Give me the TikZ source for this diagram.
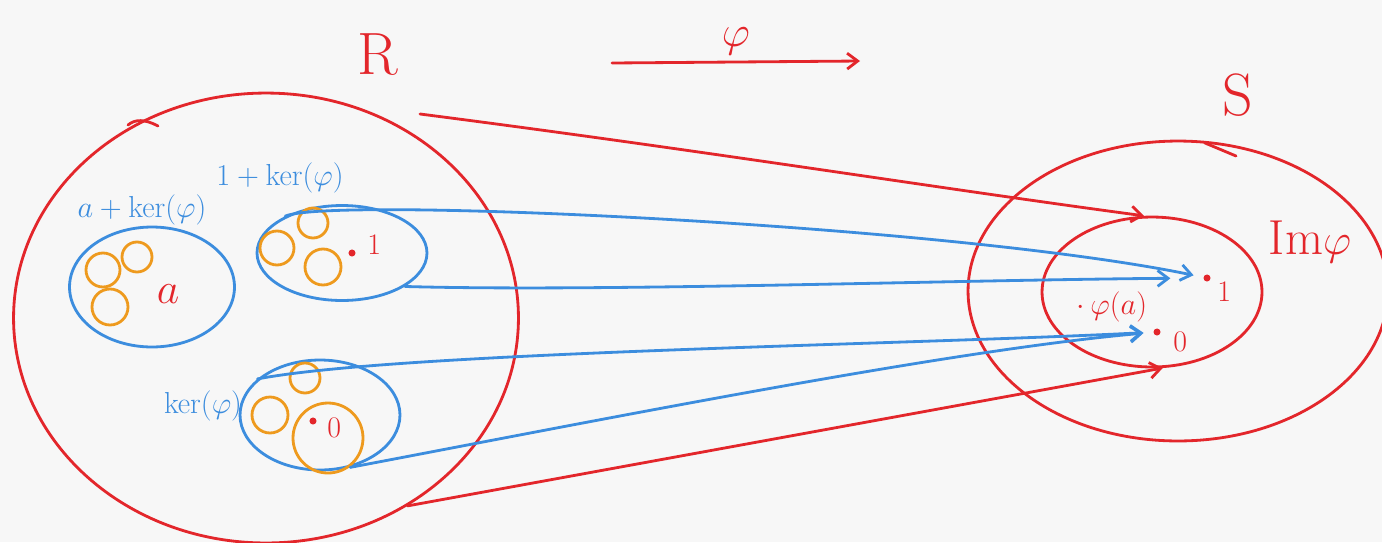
\documentclass[tikz,border=0pt]{standalone}
\usepackage{amsmath}
\usetikzlibrary{arrows.meta,shapes.geometric}
\definecolor{cRed}{HTML}{E3262B}
\definecolor{cBlue}{HTML}{3C8DDE}
\definecolor{cOrange}{HTML}{EE9A1E}
\definecolor{cPaper}{HTML}{F7F7F7}

\begin{document}
\begin{tikzpicture}[x=0.02cm,y=-0.02cm,line width=1.6pt,line cap=round,line join=round,
  redset/.style={ellipse,draw=cRed,inner sep=0pt},
  blueset/.style={ellipse,draw=cBlue,inner sep=0pt},
  elt/.style={circle,fill=cRed,inner sep=0pt,minimum size=4pt},
  tip/.style={-{Straight Barb[length=6pt,width=9pt]}},
  bigtxt/.style={font=\fontsize{34}{38}\selectfont,text=cRed},
  blutxt/.style={font=\fontsize{17}{20}\selectfont,text=cBlue},
  redtxt/.style={font=\fontsize{17}{20}\selectfont,text=cRed}]
  \fill[cPaper] (0,0) rectangle (1382,542);
  \useasboundingbox (0,0) rectangle (1382,542);
  \node[redset,minimum width=10.1cm,minimum height=9cm] (R) at (266,318) {};
  \node[redset,minimum width=8.4cm,minimum height=6.0cm] (S) at (1178,291) {};
  \node[redset,minimum width=4.4cm,minimum height=3.0cm] (Im) at (1152,292) {};
  \node[blueset,minimum width=3.3cm,minimum height=2.4cm] (aker) at (152,287) {};
  \node[blueset,minimum width=3.4cm,minimum height=1.9cm] (oneker) at (342,253) {};
  \node[blueset,minimum width=3.2cm,minimum height=2.2cm] (ker) at (320,415) {};
  \foreach \cx/\cy/\r in {103/270/17,137/257/15,110/307/18, 277/248/17,313/223/15,323/267/18,
                          270/415/18,305/378/15,328/438/35}{
    \draw[cOrange] (\cx,\cy) circle[radius=\r];}
  \draw[cRed] (158,126) .. controls (145,119) and (135,119) .. (128,125);
  \draw[cRed] (1205,143) -- (1236,156);
  \node[bigtxt] (lblR) at (378,55) {R};
  \node[bigtxt] (lblS) at (1238,95) {S};
  \node[bigtxt,font=\fontsize{28}{32}\selectfont] (lblIm) at (1310,242) {Im$\varphi$};
  \node[blutxt] (lblaker) at (142,210) {$a+\ker(\varphi)$};
  \node[blutxt] (lbloneker) at (280,178) {$1+\ker(\varphi)$};
  \node[blutxt] (lblker) at (203,406) {$\ker(\varphi)$};
  \node[redtxt,font=\fontsize{24}{28}\selectfont] (ra) at (168,294) {$a$};
  \node[elt] (rone) at (352,253) {};
  \node[redtxt,anchor=west] (ronetxt) at (360,245) {1};
  \node[elt] (rzero) at (313,421) {};
  \node[redtxt,anchor=west] (rzerotxt) at (320,428) {0};
  \node[elt] (imone) at (1207,278) {};
  \node[redtxt,anchor=west] (imonetxt) at (1210,292) {1};
  \node[elt] (imzero) at (1157,332) {};
  \node[redtxt,anchor=west] (imzerotxt) at (1166,342) {0};
  \node[redtxt] (imphia) at (1112,307) {$\cdot\,\varphi(a)$};
  \coordinate (phiL) at (612,63);
  \coordinate (phiR) at (860,61);
  \coordinate (Rtop) at (420,114);
  \draw[cRed,tip] (phiL) -- node[above=0pt,bigtxt,font=\fontsize{30}{34}\selectfont] (lblphi) {$\varphi$} (phiR);
  \draw[cRed,tip] (Rtop) .. controls (700,150) and (950,190) .. (Im.96);
  \draw[cRed,tip] (R.-53) -- (Im.-82);
  \draw[cBlue,tip,shorten >=5pt] (oneker.147) .. controls (330,196) and (950,225) .. (imone);
  \draw[cBlue,tip,shorten >=18pt] (oneker.-28) .. controls (600,292) and (950,280) .. (imone);
  \draw[cBlue,tip,shorten >=5pt] (ker.150) .. controls (400,352) and (900,345) .. (imzero);
  \draw[cBlue,tip,shorten >=5pt] (ker.-60) .. controls (600,420) and (950,350) .. (imzero);
\end{tikzpicture}
\end{document}
